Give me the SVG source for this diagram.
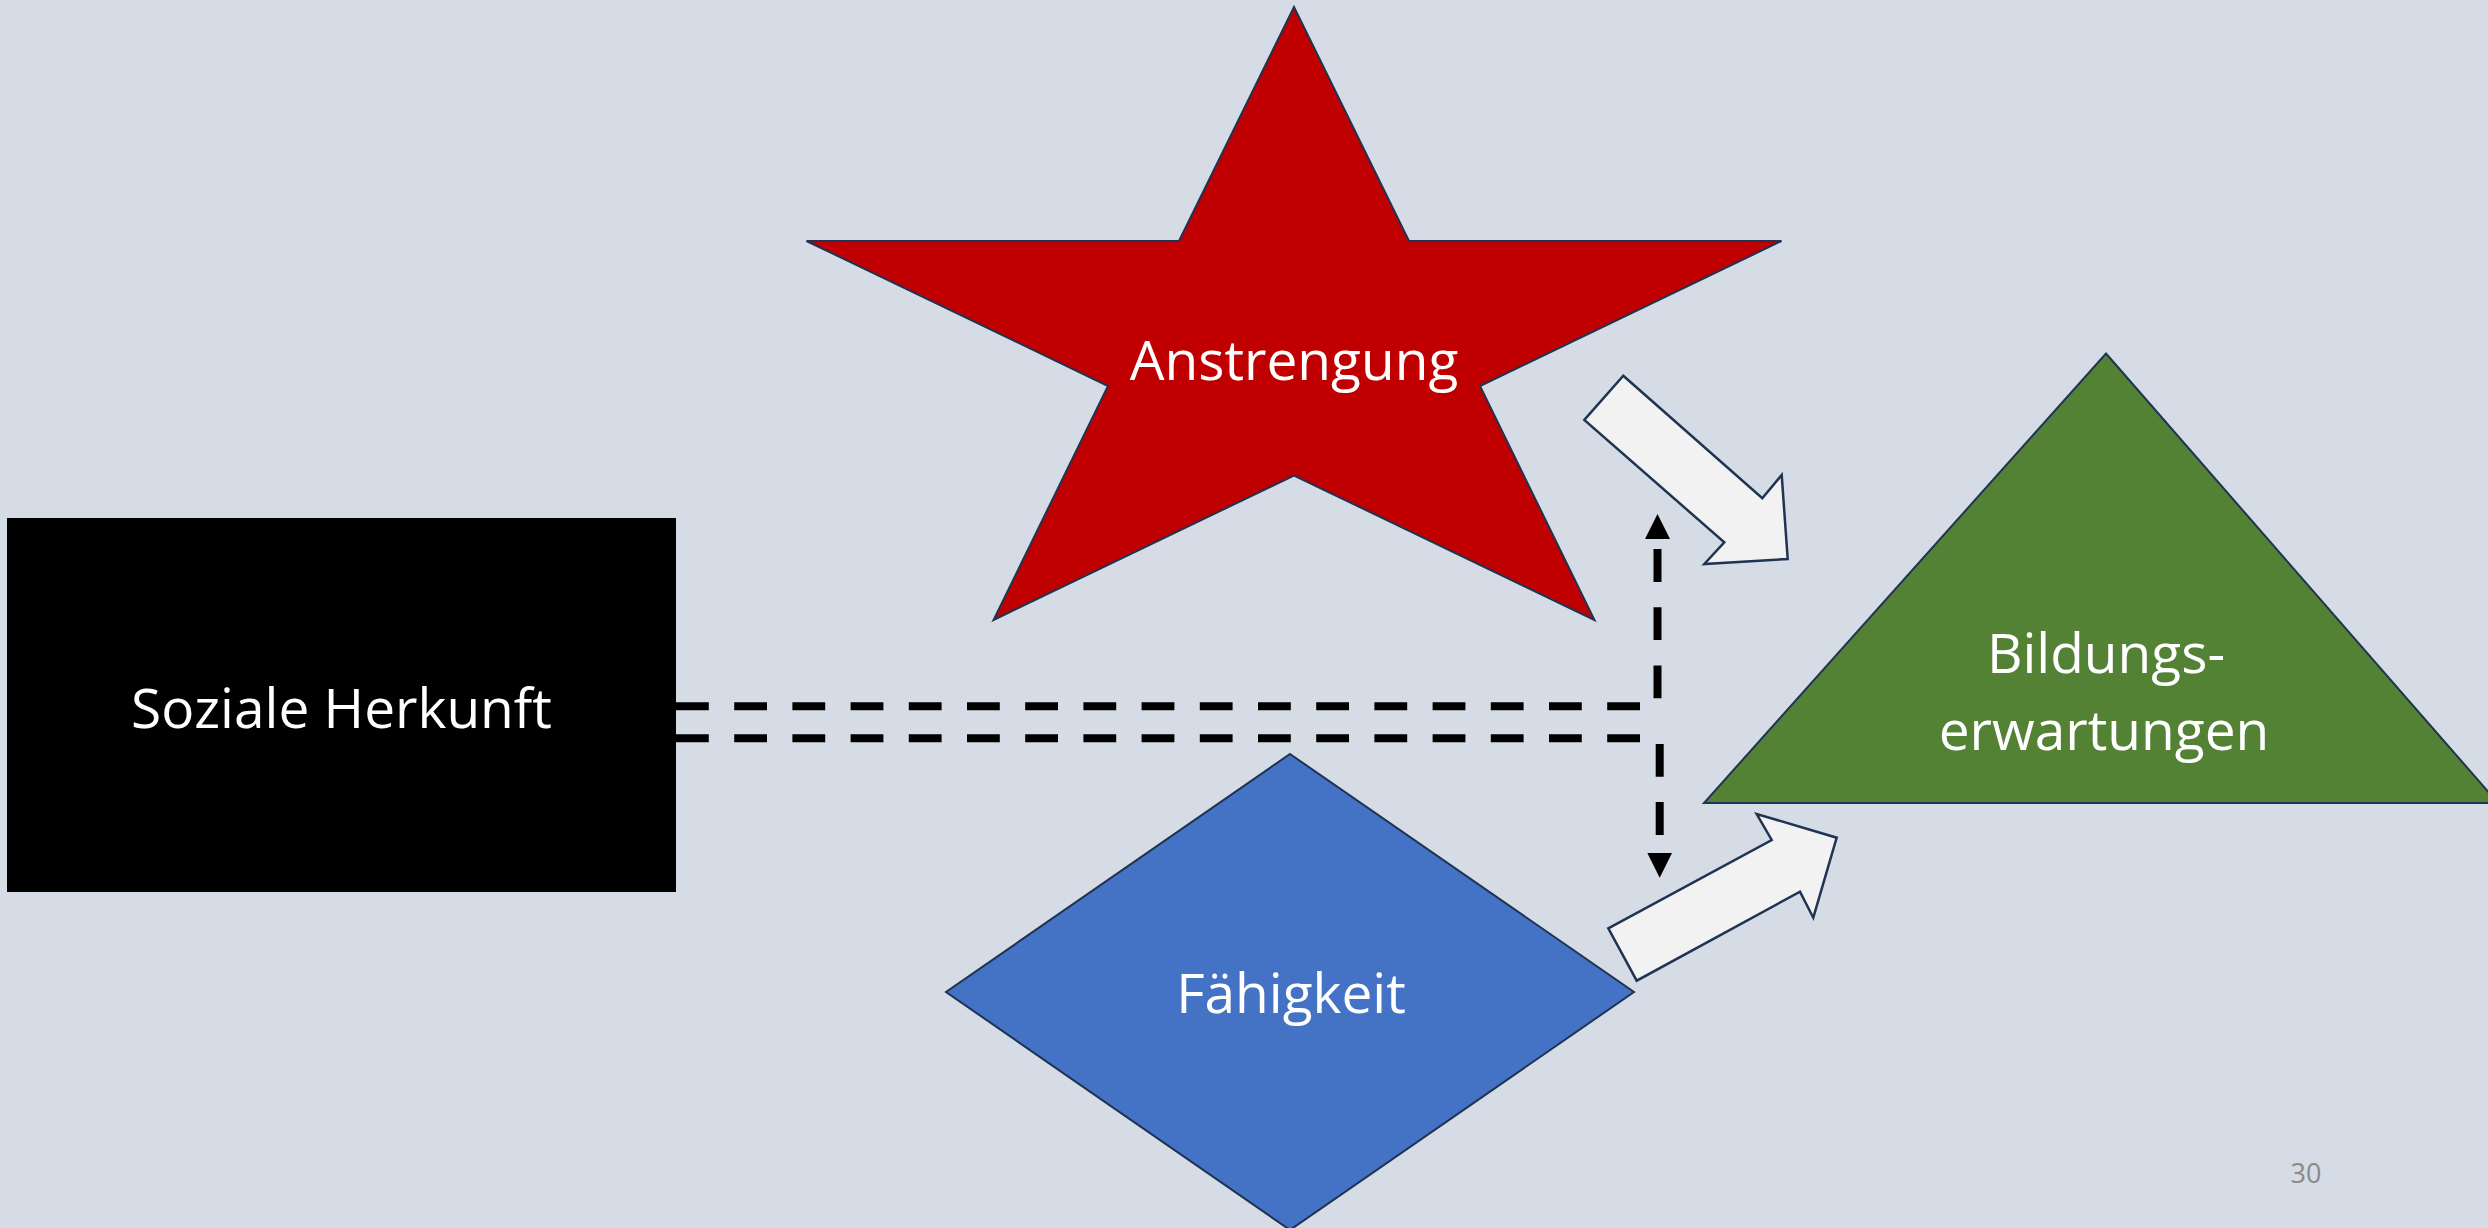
<svg xmlns="http://www.w3.org/2000/svg" width="2488" height="1228" viewBox="0 0 2488 1228">
  <style>
    .lbl { font-family: "Open Sans", "Noto Sans", "Liberation Sans", sans-serif; font-size: 55px; fill: #FFFFFF; text-anchor: middle; }
    .shape { stroke: #1F3352; stroke-width: 2; stroke-linejoin: miter; }
    .block { fill: #F2F2F2; stroke: #1F3352; stroke-width: 2.5; stroke-linejoin: miter; }
    .dash { fill: none; stroke: #000000; stroke-width: 8; stroke-dasharray: 32.8 25.4; stroke-linecap: butt; marker-end: url(#head); }
    .pagenum { font-family: "Open Sans", "Noto Sans", "Liberation Sans", sans-serif; font-size: 27px; fill: #8A8A8A; text-anchor: middle; }
  </style>
  <defs>
    <marker id="head" markerUnits="userSpaceOnUse" markerWidth="25" markerHeight="25" viewBox="0 0 25 25" refX="0" refY="12.5" orient="auto">
      <path d="M0,0 L25,12.5 L0,25 Z" fill="#000000" stroke="none"/>
    </marker>
  </defs>
  <rect x="0" y="0" width="2488" height="1228" fill="#D6DCE5"/>

  <g id="connectors">
    <path class="dash" d="M676,706.2 H1657.5 V539"/>
    <path class="dash" d="M676,738.2 H1659.7 V852.7"/>
    <polygon id="arrow-anstrengung" class="block" points="1623.3,375.7 1762.3,498.3 1781.7,475 1787.7,559 1704.3,564 1724.3,542.3 1584.3,420"/>
    <polygon id="arrow-faehigkeit" class="block" points="1608.3,928.3 1771.7,840 1756.7,814 1836.7,837.7 1813.3,917.7 1800,891.7 1636.7,980.7"/>
  </g>

  <g id="node-soziale-herkunft">
    <rect x="7" y="518" width="669" height="374" fill="#000000"/>
    <text class="lbl" x="341.5" y="727.5">Soziale Herkunft</text>
  </g>

  <g id="node-anstrengung">
    <polygon class="shape" fill="#C00000" points="1294,7 1409,241 1781.5,241 1480,386 1594.5,620 1294,475.5 993.5,620 1108,386 806.5,241 1179,241"/>
    <text class="lbl" x="1294" y="380">Anstrengung</text>
  </g>

  <g id="node-faehigkeit">
    <polygon class="shape" fill="#4472C4" points="1290,754 1634,992 1290,1230 946,992"/>
    <text class="lbl" x="1291" y="1013">Fähigkeit</text>
  </g>

  <g id="node-bildungserwartungen">
    <polygon class="shape" fill="#548235" points="2106,353.5 2498,803 1704,803"/>
    <text class="lbl" x="2106" y="673">Bildungs-</text>
    <text class="lbl" x="2104" y="750">erwartungen</text>
  </g>

  <text class="pagenum" x="2306" y="1183">30</text>
</svg>
